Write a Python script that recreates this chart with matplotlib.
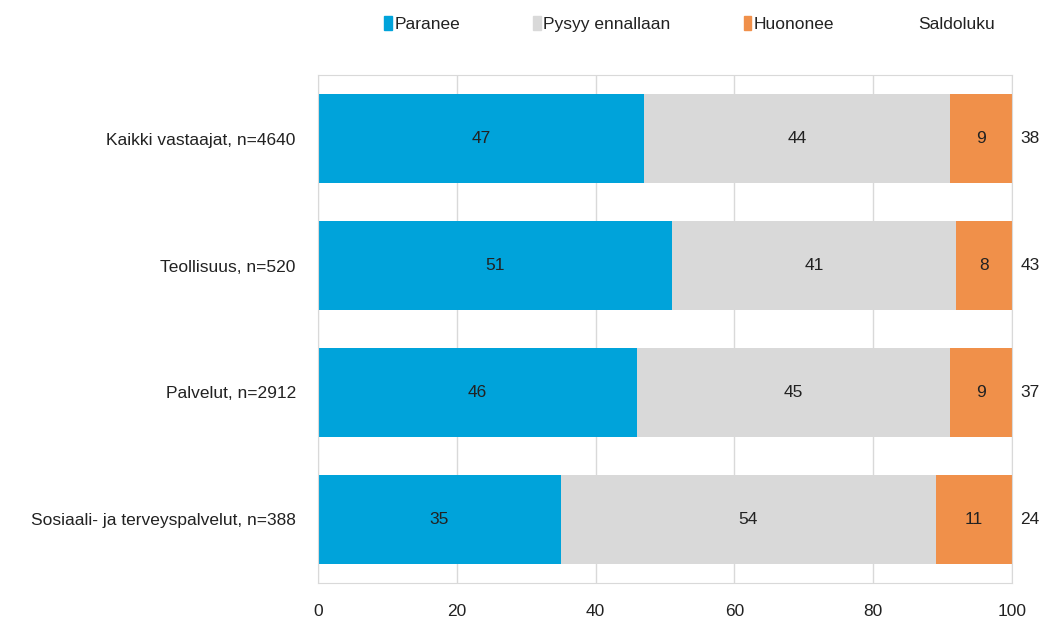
import matplotlib.pyplot as plt
from matplotlib.patches import Patch
import numpy as np

plt.rcParams['font.family'] = ['Liberation Sans', 'DejaVu Sans']

categories = ["Kaikki vastaajat, n=4640", "Teollisuus, n=520",
              "Palvelut, n=2912", "Sosiaali- ja terveyspalvelut, n=388"]
paranee = [47, 51, 46, 35]
pysyy = [44, 41, 45, 54]
huononee = [9, 8, 9, 11]
saldoluku = [38, 43, 37, 24]

series_names = ["Paranee", "Pysyy ennallaan", "Huononee", "Saldoluku"]
colors = ['#00A3DA', '#D9D9D9', '#F0904A']
txt = '#222222'
fs = 12.5

fig = plt.figure(figsize=(10.49, 6.32), dpi=100)
ax = fig.add_axes([318/1049, 1 - 583/632, 694/1049, 508/632])

y = np.arange(len(categories))
left = np.zeros(len(categories))
bars = []
for vals, c in zip([paranee, pysyy, huononee], colors):
    b = ax.barh(y, vals, left=left, height=0.7, color=c, zorder=2)
    bars.append(b)
    for yi, l, v in zip(y, left, vals):
        ax.text(l + v / 2, yi, str(v), ha='center', va='center', fontsize=fs, color=txt)
    left = left + np.array(vals)

for yi, s in zip(y, saldoluku):
    ax.text(101.2, yi, str(s), ha='left', va='center', fontsize=fs, color=txt, clip_on=False)

ax.set_xlim(0, 100)
ax.set_ylim(len(categories) - 0.5, -0.5)
ax.set_yticks(y)
ax.set_yticklabels(categories, fontsize=fs, color=txt)
ax.set_xticks([0, 20, 40, 60, 80, 100])
ax.tick_params(axis='x', labelsize=fs, colors=txt, length=0, pad=15)
ax.tick_params(axis='y', length=0, pad=16)
ax.grid(axis='x', color='#D9D9D9', lw=1, zorder=0)
for sp in ax.spines.values():
    sp.set_color('#D9D9D9')

handles = [Patch(color=c) for c in colors] + [Patch(color='none')]
fig.legend(handles, series_names, loc='center', bbox_to_anchor=(0.657, 0.962), ncol=4,
           frameon=False, fontsize=fs, handlelength=0.45, handleheight=0.9,
           handletextpad=0.15, columnspacing=4.2, labelcolor=txt)

fig.savefig('out.png', dpi=100)
